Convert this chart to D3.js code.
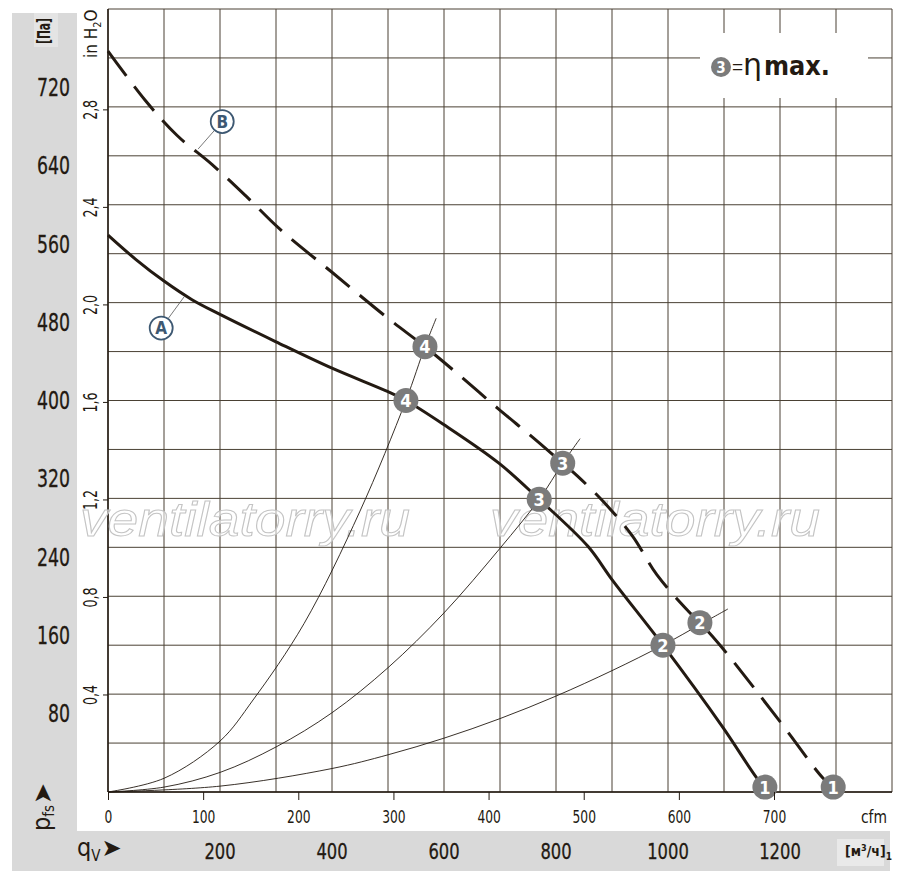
<!DOCTYPE html>
<html>
<head>
<meta charset="utf-8">
<script src="https://cdn.jsdelivr.net/npm/d3@7/dist/d3.min.js"></script>
<style>
	body { margin: 0; background: #fff; }
	text { font-family: "Liberation Sans Narrow", "DejaVu Sans Condensed", sans-serif; fill: #231a12; }
</style>
</head>
<body>
<div id="wrapper"></div>
<script>
// Curve A (solid), m³/h vs Pa
const flowA = [0, 50, 100, 150, 200, 300, 400, 500, 532, 598, 698, 770, 857, 900, 991, 1098, 1159, 1173]
const pressA = [569, 544, 522, 503, 488, 460, 433, 409, 400, 376, 336, 299, 251, 217, 150, 66, 14, 5]

// Curve B (dashed)
const flowB = [0, 66, 123, 186, 248, 307, 400, 500, 566, 629, 696, 759, 812, 838, 884, 936, 980, 1036, 1057, 1093, 1196, 1277, 1295]
const pressB = [757, 707, 671, 641, 608, 575, 531, 484, 455, 425, 392, 362, 336, 323, 297, 262, 222, 185, 173, 150, 75, 14, 5]

// operating points 4..1
const pointNumbers = [4, 3, 2, 1]
const opFlowA = [532, 770, 991, 1173]
const opPressA = [400, 299, 150, 5]
const opFlowB = [566, 812, 1057, 1295]
const opPressB = [455, 336, 173, 5]

// system curves through the points
const sys4Flow = [0, 100, 200, 259, 350, 450, 532, 566, 586]
const sys4Press = [0, 14, 52, 94, 172, 287, 400, 455, 484]
const sys3Flow = [0, 100, 200, 300, 400, 500, 600, 700, 770, 812, 843]
const sys3Press = [0, 5, 20, 46, 81, 127, 183, 249, 299, 336, 361]
const sys2Flow = [0, 200, 400, 500, 600, 700, 800, 900, 991, 1057, 1107]
const sys2Press = [0, 6, 24, 38, 55, 75, 98, 124, 150, 171, 187]

// tick labels
const paTicks = [80, 160, 240, 320, 400, 480, 560, 640, 720]
const inTicks = [0.4, 0.8, 1.2, 1.6, 2.0, 2.4, 2.8]
const cfmTicks = [0, 100, 200, 300, 400, 500, 600, 700]
const m3hTicks = [200, 400, 600, 800, 1000, 1200]

const ink = '#231a12'
const gridColor = '#4a4134'

const svg = d3.select('#wrapper')
	.append('svg')
		.attr('width', 900)
		.attr('height', 881)

// Scales
const xScale = d3.scaleLinear().domain([0, 1400]).range([108, 892])
const yScale = d3.scaleLinear().domain([0, 800]).range([792, 9])
const cfmScale = d3.scaleLinear().domain([0, 1400 / 1.699]).range([108, 892])
const inScale = d3.scaleLinear().domain([0, 800 / 249.09]).range([792, 9])

// gray frame panels
svg.append('rect').attr('x', 12).attr('y', 13).attr('width', 65).attr('height', 858).attr('fill', '#d9d9d9')
svg.append('rect').attr('x', 12).attr('y', 831).attr('width', 878).attr('height', 40).attr('fill', '#d9d9d9')
svg.append('rect').attr('x', 34).attr('y', 13).attr('width', 24).attr('height', 34).attr('fill', '#e4e4e4')
svg.append('rect').attr('x', 837).attr('y', 839).attr('width', 47).attr('height', 27).attr('fill', '#e9e9e9')

// Grid
const grid = svg.append('g')
grid.selectAll('.vg')
	.data(xScale.ticks(14))
	.join('line')
		.attr('x1', d => xScale(d)).attr('x2', d => xScale(d))
		.attr('y1', yScale(0)).attr('y2', yScale(800))
		.attr('stroke', gridColor).attr('stroke-width', 1)
grid.selectAll('.hg')
	.data(yScale.ticks(20))
	.join('line')
		.attr('x1', xScale(0)).attr('x2', xScale(1400))
		.attr('y1', d => yScale(d)).attr('y2', d => yScale(d))
		.attr('stroke', gridColor).attr('stroke-width', 1)

// axis lines
svg.append('line').attr('x1', xScale(0)).attr('x2', xScale(0)).attr('y1', yScale(0)).attr('y2', yScale(800)).attr('stroke', ink).attr('stroke-width', 1.5)
svg.append('line').attr('x1', xScale(0)).attr('x2', xScale(1400)).attr('y1', yScale(0)).attr('y2', yScale(0)).attr('stroke', ink).attr('stroke-width', 1.5)

// watermark
const wm = ['ventilatorry.ru', 'ventilatorry.ru']
svg.selectAll('.wm')
	.data(wm)
	.join('text')
		.attr('x', (d, i) => i === 0 ? 80 : 490)
		.attr('y', 536)
		.attr('textLength', 330)
		.attr('lengthAdjust', 'spacingAndGlyphs')
		.style('font-family', '"Liberation Sans", sans-serif')
		.style('font-style', 'italic')
		.style('font-size', '48px')
		.style('fill', 'rgba(255,255,255,0.55)')
		.style('stroke', '#c4c4c4')
		.style('stroke-width', 1)
		.text(d => d)

// legend box
svg.append('rect').attr('x', 700).attr('y', 33).attr('width', 168).attr('height', 65).attr('fill', '#fff')
svg.append('circle').attr('cx', 721).attr('cy', 67).attr('r', 10).attr('fill', '#7b7b7b')
svg.append('text').attr('x', 721).attr('y', 72.5).attr('text-anchor', 'middle')
	.style('font-size', '15px').style('font-weight', 'bold').style('fill', '#fff').text('3')
svg.append('text').attr('x', 732).attr('y', 73)
	.style('font-family', '"Liberation Sans", sans-serif').style('font-size', '19px').text('=')
svg.append('text').attr('x', 743).attr('y', 75)
	.style('font-family', '"DejaVu Sans", sans-serif').style('font-size', '30px').text('η')
svg.append('text').attr('x', 764).attr('y', 75).attr('textLength', 66).attr('lengthAdjust', 'spacingAndGlyphs')
	.style('font-size', '26px').style('font-weight', 'bold').text('max.')

// Lines
const line = d3.line()
	.x(d => xScale(d[0]))
	.y(d => yScale(d[1]))
	.curve(d3.curveCatmullRom.alpha(0.5))

const sysCurves = [
	d3.zip(sys4Flow, sys4Press),
	d3.zip(sys3Flow, sys3Press),
	d3.zip(sys2Flow, sys2Press)
]
svg.selectAll('.sys')
	.data(sysCurves)
	.join('path')
		.attr('d', line)
		.attr('fill', 'none')
		.attr('stroke', ink)
		.attr('stroke-width', 0.9)

svg.append('path')
	.attr('d', line(d3.zip(flowB, pressB)))
	.attr('fill', 'none')
	.attr('stroke', ink)
	.attr('stroke-width', 3)
	.attr('stroke-dasharray', '31,13')

svg.append('path')
	.attr('d', line(d3.zip(flowA, pressA)))
	.attr('fill', 'none')
	.attr('stroke', ink)
	.attr('stroke-width', 3)

// curve labels A and B
const labelNames = ['A', 'B']
const labelFlow = [95, 204]
const labelPress = [474, 685]
const leaderFlow = [136, 161]
const leaderPress = [506, 657]
const blue = '#3d5872'
labelNames.forEach((name, i) => {
	const cx = xScale(labelFlow[i])
	const cy = yScale(labelPress[i])
	const lx = xScale(leaderFlow[i])
	const ly = yScale(leaderPress[i])
	const ang = Math.atan2(ly - cy, lx - cx)
	svg.append('line')
		.attr('x1', cx + 12 * Math.cos(ang)).attr('y1', cy + 12 * Math.sin(ang))
		.attr('x2', lx).attr('y2', ly)
		.attr('stroke', '#555').attr('stroke-width', 0.8)
	svg.append('circle').attr('cx', cx).attr('cy', cy).attr('r', 11.5)
		.attr('fill', '#fff').attr('stroke', blue).attr('stroke-width', 1.8)
	svg.append('text').attr('x', cx).attr('y', cy + 6).attr('text-anchor', 'middle')
		.style('font-size', '17px').style('font-weight', 'bold').style('fill', blue).text(name)
})

// operating point markers
const markers = pointNumbers.map((n, i) => ({ n, q: opFlowA[i], p: opPressA[i] }))
	.concat(pointNumbers.map((n, i) => ({ n, q: opFlowB[i], p: opPressB[i] })))
const mk = svg.selectAll('.mk')
	.data(markers)
	.join('g')
		.attr('transform', d => `translate(${xScale(d.q)},${yScale(d.p)})`)
mk.append('circle').attr('r', 12.5).attr('fill', '#7b7b7b')
mk.append('text').attr('y', 6.5).attr('text-anchor', 'middle')
	.style('font-size', '18px').style('font-weight', 'bold').style('fill', '#fff')
	.text(d => d.n)

// Pa labels
svg.selectAll('.pa')
	.data(paTicks)
	.join('text')
		.attr('x', 70)
		.attr('y', d => yScale(d))
		.attr('dy', '0.36em')
		.attr('text-anchor', 'end')
		.attr('textLength', d => String(d).length * 11)
		.attr('lengthAdjust', 'spacingAndGlyphs')
		.style('font-size', '24px')
		.style('stroke', ink).style('stroke-width', 0.3)
		.text(d => d)

// inH2O axis
const inAxis = svg.append('g')
	.attr('transform', `translate(${xScale(0)},0)`)
	.call(d3.axisLeft(inScale).tickValues(inTicks).tickSize(5).tickFormat(d => d3.format('.1f')(d).replace('.', ',')))
inAxis.select('.domain').remove()
inAxis.selectAll('line').attr('stroke', ink)
inAxis.selectAll('text')
	.attr('x', 0).attr('y', -11).attr('dy', 0)
	.attr('text-anchor', 'middle')
	.attr('transform', 'rotate(-90)')
	.attr('textLength', 20)
	.attr('lengthAdjust', 'spacingAndGlyphs')
	.style('font-size', '19px')
	.style('fill', ink)
	.style('font-family', '"Liberation Sans Narrow", "DejaVu Sans Condensed", sans-serif')

// cfm axis
const cfmAxis = svg.append('g')
	.attr('transform', `translate(0,${yScale(0)})`)
	.call(d3.axisBottom(cfmScale).tickValues(cfmTicks).tickSize(8).tickPadding(10))
cfmAxis.select('.domain').remove()
cfmAxis.selectAll('line').attr('stroke', ink)
cfmAxis.selectAll('text')
	.attr('textLength', d => String(d).length * 7.8)
	.attr('lengthAdjust', 'spacingAndGlyphs')
	.style('font-size', '18px')
	.style('fill', ink)
	.style('font-family', '"Liberation Sans Narrow", "DejaVu Sans Condensed", sans-serif')
svg.append('text').attr('x', 887).attr('y', 823).attr('text-anchor', 'end')
	.attr('textLength', 26).attr('lengthAdjust', 'spacingAndGlyphs')
	.style('font-size', '18px').text('cfm')

// m³/h labels
svg.selectAll('.m3h')
	.data(m3hTicks)
	.join('text')
		.attr('x', d => xScale(d))
		.attr('y', 859)
		.attr('text-anchor', 'middle')
		.attr('textLength', d => String(d).length * 10.4)
		.attr('lengthAdjust', 'spacingAndGlyphs')
		.style('font-size', '22px')
		.style('stroke', ink).style('stroke-width', 0.3)
		.text(d => d)

const unit = svg.append('text').attr('x', 845).attr('y', 856).style('font-size', '14px').style('font-weight', 'bold')
unit.append('tspan').text('[м')
unit.append('tspan').attr('dy', -5).style('font-size', '9px').text('3')
unit.append('tspan').attr('dy', 5).text('/ч]')
unit.append('tspan').attr('dy', 4).style('font-size', '10px').text('1')

// axis titles
svg.append('text')
	.attr('transform', 'translate(50,44) rotate(-90)')
	.attr('textLength', 26).attr('lengthAdjust', 'spacingAndGlyphs')
	.style('font-size', '17px').style('font-weight', 'bold')
	.text('[Па]')

const inTitle = svg.append('text')
	.attr('transform', 'translate(97,58) rotate(-90)')
	.style('font-size', '17px')
inTitle.append('tspan').text('in H')
inTitle.append('tspan').attr('dy', 4).style('font-size', '11px').text('2')
inTitle.append('tspan').attr('dy', -4).text('O')

const pTitle = svg.append('text')
	.attr('transform', 'translate(50,831) rotate(-90)')
	.style('font-size', '25px')
pTitle.append('tspan').text('p')
pTitle.append('tspan').attr('dy', 4).style('font-size', '15px').text('fs')
pTitle.append('tspan').attr('dy', -3).attr('dx', 1)
	.style('font-family', '"DejaVu Sans", sans-serif').style('font-size', '25px').text('➤')

const qTitle = svg.append('text')
	.attr('x', 77).attr('y', 856)
	.style('font-size', '25px')
qTitle.append('tspan').text('q')
qTitle.append('tspan').attr('dy', 5).style('font-size', '15px').text('V')
qTitle.append('tspan').attr('dy', -5).attr('dx', 1)
	.style('font-family', '"DejaVu Sans", sans-serif').style('font-size', '24px').text('➤')
</script>
</body>
</html>
